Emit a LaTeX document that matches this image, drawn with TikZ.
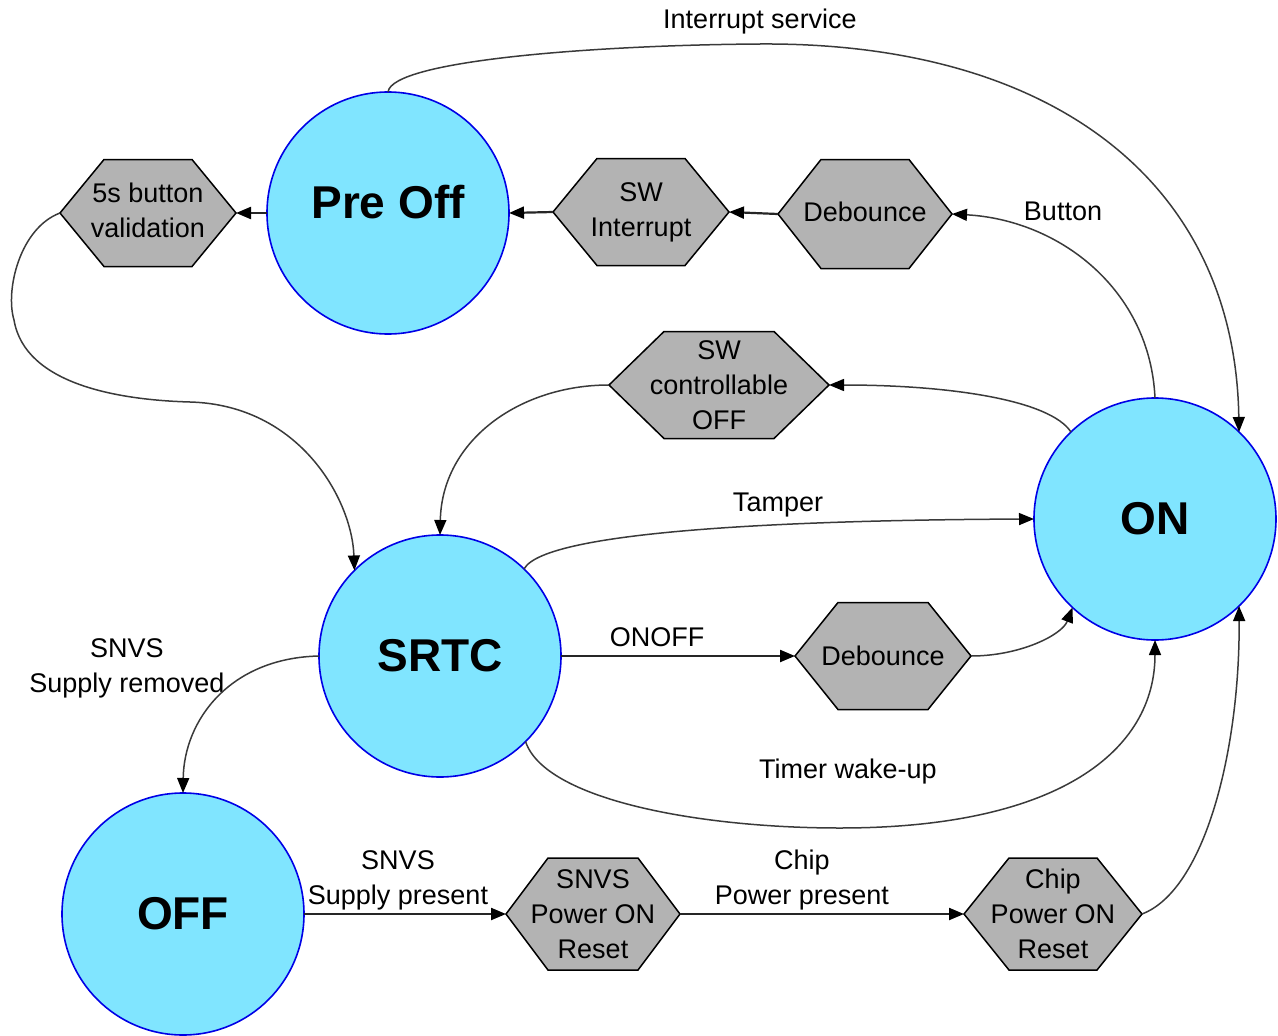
\documentclass[tikz,border=0pt]{standalone}
\usepackage{fontspec}
\setmainfont{Liberation Sans}
\usetikzlibrary{arrows.meta}
\definecolor{statefill}{HTML}{80E5FF}
\definecolor{stateline}{HTML}{0000E6}
\definecolor{hexgray}{HTML}{B3B3B3}
\definecolor{wire}{HTML}{3A3A3A}
\tikzset{
 state/.style={circle, draw=stateline, fill=statefill, line width=1.6pt, minimum size=242pt, inner sep=0pt, outer sep=0pt, font=\fontsize{46}{50}\selectfont\bfseries},
 hexshape/.style={draw=black, fill=hexgray, line width=1.5pt, line join=miter},
 hexlabel/.style={inner sep=0pt, outer sep=0pt, align=center, font=\fontsize{27}{35}\selectfont},
 lbl/.style={align=center, font=\fontsize{27}{35}\selectfont, inner sep=1pt},
 conn/.style={draw=wire, line width=1.5pt, -{Triangle[length=15pt,width=12pt,color=black]}},
 straightconn/.style={conn, draw=black!85, line width=2.2pt},
}
\newcommand\hexnode[7]{%
 \path[hexshape] (#2-#4,#3) -- (#2-#5,#3-#6) -- (#2+#5,#3-#6) -- (#2+#4,#3) -- (#2+#5,#3+#6) -- (#2-#5,#3+#6) -- cycle;
 \node[hexlabel, minimum width=#4*2pt, minimum height=#6*2pt] (#1) at (#2,#3) {#7};
}
\begin{document}
\begin{tikzpicture}[x=1pt,y=-1pt]
\useasboundingbox (0,0) rectangle (1278,1036);
% states
\node[state] (preoff) at (388,213) {\raisebox{22pt}{Pre Off}};
\node[state] (on) at (1155,519) {ON};
\node[state] (srtc) at (440,656) {\raisebox{2pt}{SRTC}};
\node[state] (off) at (183,914) {OFF};
% hexagons
\hexnode{btn5}{148}{213}{88}{44}{53.5}{\raisebox{3pt}{\begin{tabular}{@{}c@{}}5s button\\validation\end{tabular}}}
\hexnode{swint}{641}{212}{88}{44}{53.5}{\raisebox{3pt}{\begin{tabular}{@{}c@{}}SW\\Interrupt\end{tabular}}}
\hexnode{deb1}{865}{214}{87}{44}{54.5}{\raisebox{4pt}{Debounce}}
\hexnode{swoff}{719}{385}{110}{55}{53.5}{SW\\controllable\\OFF}
\hexnode{deb2}{883}{656}{88}{45}{53.5}{Debounce}
\hexnode{snvspor}{593}{914}{87}{45}{56}{SNVS\\Power ON\\Reset}
\hexnode{chippor}{1053}{914}{89}{44}{56}{Chip\\Power ON\\Reset}
% labels
\node[lbl] (lis) at (760,22) {Interrupt service};
\node[lbl] (lbtn) at (1063,211) {Button};
\node[lbl] (ltamp) at (778,505) {Tamper};
\node[lbl] (lonoff) at (657,637) {ONOFF};
\node[lbl] (ltimer) at (848,772) {Timer wake-up};
\node[lbl] (lrem) at (127,668) {SNVS\\Supply removed};
\node[lbl] (lpres) at (398,880) {SNVS\\Supply present};
\node[lbl] (lchip) at (802,880) {Chip\\Power present};
% connectors
\draw[conn] (preoff.north) .. controls (392,60) and (600,45) .. (760,44) .. controls (1050,42) and (1235,180) .. (on.46);
\draw[conn] (on.north) .. controls (1150,290) and (1060,220) .. (deb1.east);
\draw[straightconn] (deb1.west) -- (swint.east);
\draw[straightconn] (swint.west) -- (preoff.east);
\draw[straightconn] (preoff.west) -- (btn5.east);
\draw[conn] (btn5.west) .. controls (20,228) and (5,290) .. (14,320) .. controls (25,385) and (120,400) .. (190,402) .. controls (300,405) and (352,500) .. (srtc.135);
\draw[conn] (on.134) .. controls (1050,400) and (950,385) .. (swoff.east);
\draw[conn] (swoff.west) .. controls (520,385) and (442,440) .. (srtc.north);
\draw[conn] (srtc.46) .. controls (545,530) and (800,520) .. (on.west);
\draw[straightconn] (srtc.east) -- (deb2.west);
\draw[conn] (deb2.east) .. controls (1020,656) and (1062,635) .. (on.227);
\draw[conn] (srtc.315) .. controls (545,800) and (700,828) .. (840,828) .. controls (1060,828) and (1155,750) .. (on.south);
\draw[conn] (srtc.west) .. controls (230,658) and (184,720) .. (off.north);
\draw[straightconn] (off.east) -- (snvspor.west);
\draw[straightconn] (snvspor.east) -- (chippor.west);
\draw[conn] (chippor.east) .. controls (1205,890) and (1240,750) .. (on.314);
\end{tikzpicture}
\end{document}
